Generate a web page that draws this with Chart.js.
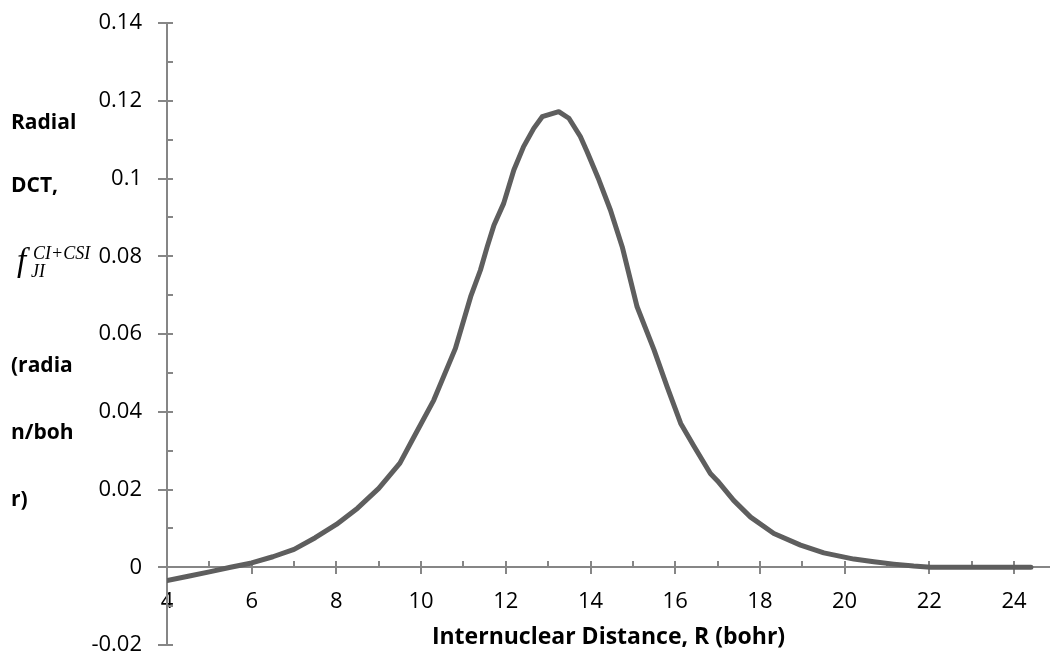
<!DOCTYPE html>
<html>
<head>
<meta charset="utf-8">
<script src="https://cdn.jsdelivr.net/npm/chart.js@4.4.1/dist/chart.umd.min.js"></script>
<style>
  html, body { margin: 0; padding: 0; background: #fff; }
  #wrap { width: 1050px; height: 662px; position: relative; }
</style>
</head>
<body>
<div id="wrap"><canvas id="chart" width="1050" height="662"></canvas></div>
<script>
// R (bohr) and radial DCT
const distance = [
  4.0, 4.5, 5.0, 5.5, 6.0, 6.5, 7.0, 7.5, 8.0, 8.5, 9.0, 9.5, 9.83,
  10.3, 10.81, 11.17, 11.4, 11.56, 11.72, 11.95, 12.19, 12.42, 12.66, 12.86,
  13.25, 13.49, 13.76, 13.92, 14.2, 14.47, 14.75, 15.1, 15.5, 15.81, 16.13,
  16.44, 16.83, 17.0, 17.38, 17.78, 18.33, 18.96, 19.51, 20.22, 20.69, 21.16,
  21.63, 22.03, 23.0, 24.0, 24.4
];
const radialDct = [
  -0.0034, -0.0023, -0.0012, 0.0, 0.0011, 0.0027, 0.0046, 0.0076, 0.0110, 0.0152, 0.0203, 0.0268, 0.0335,
  0.0430, 0.0563, 0.0696, 0.0764, 0.0824, 0.0880, 0.0936, 0.1022, 0.1082, 0.1129, 0.1159,
  0.1172, 0.1155, 0.1108, 0.1069, 0.0996, 0.0919, 0.0824, 0.0670, 0.0559, 0.0464, 0.0370,
  0.0312, 0.0241, 0.0222, 0.0172, 0.0129, 0.0087, 0.0057, 0.0037, 0.0021, 0.0014, 0.0008,
  0.0003, 0.0, 0.0, 0.0, 0.0
];

const xTickValues = [4, 6, 8, 10, 12, 14, 16, 18, 20, 22, 24];
const yTickValues = [-0.02, 0, 0.02, 0.04, 0.06, 0.08, 0.1, 0.12, 0.14];
const yTickLabels = ["-0.02", "0", "0.02", "0.04", "0.06", "0.08", "0.1", "0.12", "0.14"];

const xAxisTitle = "Internuclear Distance, R (bohr)";
const yTitleTop = ["Radial", "DCT,"];
const yTitleBottom = ["(radia", "n/boh", "r)"];

const axisColor = "#868686";
const lineColor = "#5e5e5e";

// minor + major tick marks (Excel style: major cross, minor inside)
const tickMarks = {
  id: "tickMarks",
  beforeDatasetsDraw(c) {
    const { ctx, chartArea, scales } = c;
    const x = scales.x, y = scales.y;
    const ax = chartArea.left;
    const ay = Math.round(y.getPixelForValue(0));

    ctx.save();
    ctx.strokeStyle = axisColor;
    ctx.lineWidth = 2;

    const seg = (x1, y1, x2, y2) => {
      ctx.beginPath();
      ctx.moveTo(x1, y1);
      ctx.lineTo(x2, y2);
      ctx.stroke();
    };

    yTickValues.forEach((v, i) => {
      const py = Math.round(y.getPixelForValue(v));
      seg(ax - 9, py, ax + 6, py);
      if (i < yTickValues.length - 1) {
        const my = Math.round(y.getPixelForValue((v + yTickValues[i + 1]) / 2));
        seg(ax, my, ax + 6, my);
      }
    });

    xTickValues.forEach((v, i) => {
      const px = Math.round(x.getPixelForValue(v));
      seg(px, ay - 6, px, ay + 7);
      if (i < xTickValues.length - 1) {
        const mx = Math.round(x.getPixelForValue((v + xTickValues[i + 1]) / 2));
        seg(mx, ay - 6, mx, ay);
      }
    });

    ctx.restore();
  },
  afterDraw(c) {
    const { ctx, chartArea } = c;
    ctx.save();
    ctx.fillStyle = "#000";

    // x title
    ctx.font = "bold 23px 'Open Sans'";
    ctx.textAlign = "center";
    ctx.textBaseline = "middle";
    ctx.fillText(xAxisTitle, (chartArea.left + chartArea.right) / 2, 637);

    // y title, stacked lines
    ctx.font = "bold 21px 'Open Sans'";
    ctx.textAlign = "left";
    ctx.fillText(yTitleTop[0], 11, 123);
    ctx.fillText(yTitleTop[1], 11, 186);
    ctx.fillText(yTitleBottom[0], 11, 366);
    ctx.fillText(yTitleBottom[1], 11, 433);
    ctx.fillText(yTitleBottom[2], 11, 500);

    // f_JI^{CI+CSI}
    ctx.textBaseline = "alphabetic";
    ctx.font = "italic 33px 'Liberation Serif'";
    ctx.fillText("f", 17, 271);
    ctx.font = "italic 18px 'Liberation Serif'";
    ctx.fillText("CI+CSI", 33, 259);
    ctx.fillText("JI", 31, 277);

    ctx.restore();
  }
};

const tickFont = { family: "'Open Sans'", size: 22 };

new Chart(document.getElementById("chart"), {
  type: "line",
  data: {
    datasets: [{
      data: distance.map((r, i) => ({ x: r, y: radialDct[i] })),
      borderColor: lineColor,
      borderWidth: 5,
      borderCapStyle: "round",
      borderJoinStyle: "round",
      pointRadius: 0,
      tension: 0,
      fill: false,
      clip: { left: 0, top: 6, right: 6, bottom: 6 }
    }]
  },
  options: {
    responsive: false,
    devicePixelRatio: 1,
    animation: false,
    layout: { padding: { top: 23, right: 0, bottom: 17, left: 0 } },
    plugins: { legend: { display: false }, tooltip: { enabled: false } },
    scales: {
      x: {
        type: "linear",
        min: 4,
        max: 24.85,
        position: { y: 0 },
        grid: { display: false, drawTicks: false },
        border: { display: true, color: axisColor, width: 2 },
        afterBuildTicks(s) { s.ticks = xTickValues.map(v => ({ value: v })); },
        afterFit(s) { s.paddingLeft = 0; s.paddingRight = 0; },
        ticks: {
          font: tickFont,
          color: "#000",
          padding: 21,
          maxRotation: 0,
          autoSkip: false,
          includeBounds: false
        }
      },
      y: {
        type: "linear",
        min: -0.02,
        max: 0.14,
        grid: { display: false, drawTicks: false },
        border: { display: true, color: axisColor, width: 2 },
        afterBuildTicks(s) { s.ticks = yTickValues.map(v => ({ value: v })); },
        afterFit(s) { s.width = 167; s.paddingTop = 0; s.paddingBottom = 0; },
        ticks: {
          font: tickFont,
          color: "#000",
          padding: 25,
          autoSkip: false,
          callback: (v, i) => yTickLabels[i]
        }
      }
    }
  },
  plugins: [tickMarks]
});
</script>
</body>
</html>
